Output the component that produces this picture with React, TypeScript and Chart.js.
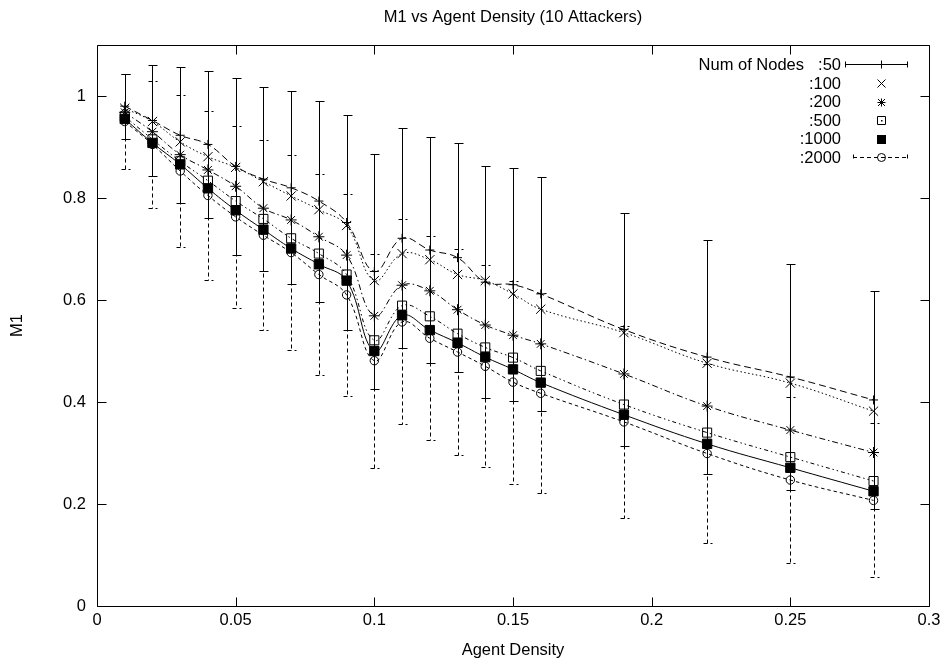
import React, { useEffect, useRef } from "react";
import { Chart, registerables } from "chart.js";

Chart.register(...registerables);

// ---- data ----
const density = [0.01, 0.02, 0.03, 0.04, 0.05, 0.06, 0.07, 0.08, 0.09, 0.1, 0.11, 0.12, 0.13, 0.14, 0.15, 0.16, 0.19, 0.22, 0.25, 0.28];

const nodes50 = [0.98, 0.952, 0.923, 0.905, 0.862, 0.837, 0.82, 0.794, 0.752, 0.656, 0.721, 0.698, 0.683, 0.635, 0.63, 0.612, 0.542, 0.488, 0.449, 0.404];
const err50 = [0.064, 0.109, 0.133, 0.144, 0.173, 0.181, 0.189, 0.197, 0.211, 0.231, 0.216, 0.221, 0.224, 0.228, 0.229, 0.23, 0.228, 0.23, 0.221, 0.214];
const nodes100 = [0.976, 0.95, 0.91, 0.881, 0.86, 0.832, 0.804, 0.777, 0.746, 0.638, 0.691, 0.679, 0.65, 0.638, 0.612, 0.582, 0.536, 0.476, 0.437, 0.382];
const nodes200 = [0.968, 0.93, 0.885, 0.855, 0.823, 0.78, 0.757, 0.724, 0.688, 0.569, 0.629, 0.618, 0.581, 0.551, 0.531, 0.514, 0.455, 0.392, 0.345, 0.301];
const nodes500 = [0.96, 0.915, 0.872, 0.834, 0.794, 0.759, 0.721, 0.691, 0.65, 0.521, 0.589, 0.568, 0.534, 0.507, 0.487, 0.461, 0.395, 0.34, 0.292, 0.245];
const nodes1000 = [0.955, 0.908, 0.866, 0.819, 0.776, 0.738, 0.701, 0.67, 0.638, 0.5, 0.57, 0.541, 0.516, 0.488, 0.464, 0.438, 0.375, 0.318, 0.271, 0.225];
const nodes2000 = [0.95, 0.905, 0.853, 0.805, 0.763, 0.727, 0.693, 0.65, 0.61, 0.481, 0.557, 0.525, 0.498, 0.47, 0.439, 0.417, 0.361, 0.299, 0.247, 0.207];
const err2000 = [0.093, 0.124, 0.149, 0.165, 0.178, 0.186, 0.192, 0.197, 0.198, 0.21, 0.201, 0.2, 0.202, 0.198, 0.199, 0.196, 0.188, 0.175, 0.162, 0.151];

const xTicks = [0, 0.05, 0.1, 0.15, 0.2, 0.25, 0.3];
const yTicks = [0, 0.2, 0.4, 0.6, 0.8, 1];
const legendTitle = "Num of Nodes";
const legendLabels = [":50", ":100", ":200", ":500", ":1000", ":2000"];
const titleText = "M1 vs Agent Density (10 Attackers)";
const xTitle = "Agent Density";
const yTitle = "M1";

const FONT = "'Liberation Sans', Arial, Helvetica, sans-serif";
const FS = 16.5;

const pts = (arr: number[]) => density.map((d, i) => ({ x: d, y: arr[i] }));

function drawMarker(ctx: CanvasRenderingContext2D, style: string, x: number, y: number) {
  ctx.save();
  ctx.strokeStyle = "#000";
  ctx.fillStyle = "#000";
  ctx.lineWidth = 1;
  ctx.setLineDash([]);
  ctx.beginPath();
  if (style === "cross") {
    ctx.moveTo(x - 4, y); ctx.lineTo(x + 4, y);
    ctx.moveTo(x, y - 4); ctx.lineTo(x, y + 4);
    ctx.stroke();
  } else if (style === "crossRot") {
    ctx.moveTo(x - 4, y - 4); ctx.lineTo(x + 4, y + 4);
    ctx.moveTo(x - 4, y + 4); ctx.lineTo(x + 4, y - 4);
    ctx.stroke();
  } else if (style === "star") {
    ctx.moveTo(x - 4, y); ctx.lineTo(x + 4, y);
    ctx.moveTo(x, y - 4); ctx.lineTo(x, y + 4);
    ctx.moveTo(x - 3.5, y - 3.5); ctx.lineTo(x + 3.5, y + 3.5);
    ctx.moveTo(x - 3.5, y + 3.5); ctx.lineTo(x + 3.5, y - 3.5);
    ctx.stroke();
  } else if (style === "rectOpen") {
    ctx.rect(x - 4, y - 4, 8, 8);
    ctx.stroke();
    ctx.fillRect(x - 0.5, y - 0.5, 1.5, 1.5);
  } else if (style === "rectFilled") {
    ctx.fillRect(x - 4.5, y - 4.5, 9, 9);
  } else if (style === "circle") {
    ctx.arc(x, y, 4, 0, Math.PI * 2);
    ctx.stroke();
  }
  ctx.restore();
}

const errorBarPlugin = {
  id: "errorBars",
  afterDatasetsDraw(chart: any) {
    const { ctx, scales } = chart;
    const xs = scales.x, ys = scales.y;
    chart.data.datasets.forEach((ds: any) => {
      const err: number[] | undefined = ds.errValues;
      if (!err) return;
      ctx.save();
      ctx.strokeStyle = "#000";
      ctx.lineWidth = 1;
      ctx.setLineDash(ds.errDash || []);
      ds.data.forEach((p: any, j: number) => {
        const px = Math.round(xs.getPixelForValue(p.x)) + 0.5;
        const yt = Math.round(ys.getPixelForValue(p.y + err[j])) + 0.5;
        const yb = Math.round(ys.getPixelForValue(p.y - err[j])) + 0.5;
        ctx.beginPath();
        ctx.moveTo(px, yt); ctx.lineTo(px, yb);
        ctx.moveTo(px - 4, yt); ctx.lineTo(px + 5, yt);
        ctx.moveTo(px - 4, yb); ctx.lineTo(px + 5, yb);
        ctx.stroke();
      });
      ctx.restore();
    });
  },
};

const framePlugin = {
  id: "frame",
  afterDraw(chart: any) {
    const { ctx, chartArea: a, scales } = chart;
    const L = Math.round(a.left) + 0.5, R = Math.round(a.right) + 0.5;
    const T = Math.round(a.top) + 0.5, B = Math.round(a.bottom) + 0.5;
    ctx.save();
    ctx.strokeStyle = "#000";
    ctx.lineWidth = 1;
    ctx.setLineDash([]);
    ctx.beginPath();
    ctx.rect(L, T, R - L, B - T);
    const tl = 9;
    xTicks.forEach((v) => {
      const px = Math.round(scales.x.getPixelForValue(v)) + 0.5;
      ctx.moveTo(px, B); ctx.lineTo(px, B - tl);
      ctx.moveTo(px, T); ctx.lineTo(px, T + tl);
    });
    yTicks.forEach((v) => {
      const py = Math.round(scales.y.getPixelForValue(v)) + 0.5;
      ctx.moveTo(L, py); ctx.lineTo(L + tl, py);
      ctx.moveTo(R, py); ctx.lineTo(R - tl, py);
    });
    ctx.stroke();

    // legend (gnuplot style, top-right inside plot)
    const textRight = 841;
    const markX = 881;
    const rowY = [64, 83, 101.5, 120, 138.5, 157];
    const styles = ["cross", "crossRot", "star", "rectOpen", "rectFilled", "circle"];
    ctx.font = `${FS}px ${FONT}`;
    ctx.fillStyle = "#000";
    ctx.textAlign = "right";
    ctx.textBaseline = "middle";
    ctx.fillText(legendTitle, 804, rowY[0] + 1);
    legendLabels.forEach((lab, i) => {
      const y = rowY[i];
      ctx.fillText(lab, textRight, y + 1);
      if (i === 0 || i === 5) {
        const sampleL = i === 0 ? 845 : 853, sampleR = 908;
        ctx.save();
        ctx.setLineDash(i === 5 ? [4, 3] : []);
        ctx.beginPath();
        const yy = Math.round(y) + 0.5;
        ctx.moveTo(sampleL, yy); ctx.lineTo(sampleR, yy);
        ctx.moveTo(sampleL + 0.5, yy - 3); ctx.lineTo(sampleL + 0.5, yy + 3);
        ctx.moveTo(sampleR - 0.5, yy - 3); ctx.lineTo(sampleR - 0.5, yy + 3);
        ctx.stroke();
        ctx.restore();
      }
      drawMarker(ctx, styles[i], markX + 0.5, Math.round(y) + 0.5);
    });
    ctx.restore();
  },
};

const fmt = (v: number) => String(Number(v.toFixed(3)));

export default function App() {
  const ref = useRef<HTMLCanvasElement | null>(null);
  useEffect(() => {
    if (!ref.current) return;
    const base = {
      borderColor: "#000",
      borderWidth: 1,
      pointBorderColor: "#000",
      pointBorderWidth: 1,
      tension: 0.4,
      fill: false,
    };
    const chart = new Chart(ref.current, {
      type: "line",
      data: {
        datasets: [
          { ...base, label: "50", data: pts(nodes50), borderDash: [7, 4], pointStyle: "cross", pointRadius: 4.5, pointBackgroundColor: "rgba(0,0,0,0)", errValues: err50, errDash: [] } as any,
          { ...base, label: "100", data: pts(nodes100), borderDash: [1.5, 2.5], pointStyle: "crossRot", pointRadius: 6.5, pointBackgroundColor: "rgba(0,0,0,0)" },
          { ...base, label: "200", data: pts(nodes200), borderDash: [6, 3, 1.5, 3], pointStyle: "star", pointRadius: 5.5, pointBackgroundColor: "rgba(0,0,0,0)" },
          { ...base, label: "500", data: pts(nodes500), borderDash: [4, 3, 1.5, 3, 1.5, 3], pointStyle: "rect", pointRadius: 6.4, pointBackgroundColor: "rgba(0,0,0,0)" },
          { ...base, label: "1000", data: pts(nodes1000), borderDash: [], pointStyle: "rect", pointRadius: 6.6, pointBackgroundColor: "#000" },
          { ...base, label: "2000", data: pts(nodes2000), borderDash: [3.5, 3], pointStyle: "circle", pointRadius: 4.2, pointBackgroundColor: "rgba(0,0,0,0)", errValues: err2000, errDash: [4, 3] } as any,
        ],
      },
      options: {
        animation: false,
        responsive: true,
        maintainAspectRatio: false,
        devicePixelRatio: 1,
        events: [],
        layout: { padding: { top: 0, right: 19, bottom: 0, left: 0 } },
        plugins: {
          legend: { display: false },
          tooltip: { enabled: false },
          title: {
            display: true,
            text: titleText,
            fullSize: false,
            color: "#000",
            font: { family: FONT, size: FS, weight: "normal" as any, lineHeight: 1.2 },
            padding: { top: 7.1, bottom: 18.1 },
          },
        },
        scales: {
          x: {
            type: "linear",
            min: 0,
            max: 0.3,
            grid: { display: false, drawTicks: false },
            border: { display: false },
            afterBuildTicks: (s: any) => { s.ticks = xTicks.map((v) => ({ value: v })); },
            afterFit: (s: any) => { s.height = 60; },
            ticks: { color: "#000", padding: 5, maxRotation: 0, autoSkip: false, font: { family: FONT, size: FS }, callback: (v: any) => fmt(Number(v)) },
            title: { display: true, text: xTitle, color: "#000", font: { family: FONT, size: FS }, padding: { top: 0, bottom: 6 } },
          },
          y: {
            type: "linear",
            min: 0,
            max: 1.1,
            grid: { display: false, drawTicks: false },
            border: { display: false },
            afterBuildTicks: (s: any) => { s.ticks = yTicks.map((v) => ({ value: v })); },
            afterFit: (s: any) => { s.width = 97; },
            ticks: { color: "#000", padding: 11, autoSkip: false, font: { family: FONT, size: FS }, callback: (v: any) => fmt(Number(v)) },
            title: { display: true, text: yTitle, color: "#000", font: { family: FONT, size: FS }, padding: { top: 8, bottom: 0 } },
          },
        },
      },
      plugins: [errorBarPlugin, framePlugin],
    });
    return () => chart.destroy();
  }, []);
  return (
    <div style={{ position: "fixed", left: 0, top: 0, width: 948, height: 666, background: "#fff" }}>
      <canvas ref={ref} />
    </div>
  );
}
